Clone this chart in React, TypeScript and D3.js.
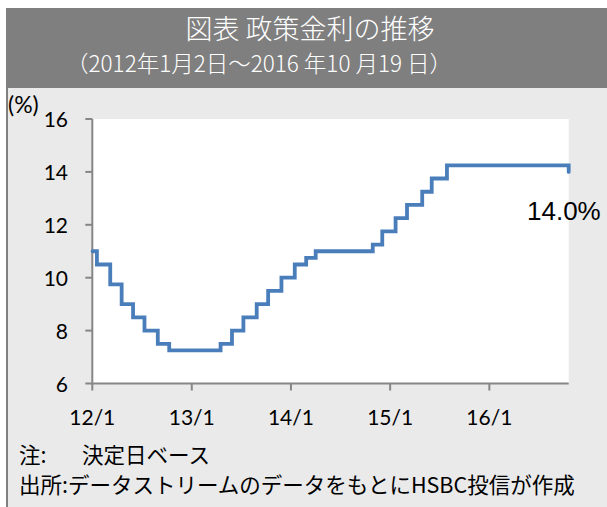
import * as d3 from "d3";

const W = 607, H = 507;

// 決定日ベースの政策金利 (%)
const decisionDates = [
  "2012-01-02", "2012-01-18", "2012-03-07", "2012-04-18", "2012-05-30",
  "2012-07-11", "2012-08-29", "2012-10-10", "2013-04-17", "2013-05-29",
  "2013-07-10", "2013-08-28", "2013-10-09", "2013-11-27", "2014-01-15",
  "2014-02-26", "2014-04-02", "2014-10-29", "2014-12-03", "2015-01-21",
  "2015-03-04", "2015-04-29", "2015-06-03", "2015-07-29", "2016-10-19",
];
const rates = [
  11.0, 10.5, 9.75, 9.0, 8.5,
  8.0, 7.5, 7.25, 7.5, 8.0,
  8.5, 9.0, 9.5, 10.0, 10.5,
  10.75, 11.0, 11.25, 11.75, 12.25,
  12.75, 13.25, 13.75, 14.25, 14.0,
];
const yTicks = [6, 8, 10, 12, 14, 16];
const xTickDates = ["2012-01-01", "2013-01-01", "2014-01-01", "2015-01-01", "2016-01-01"];
const xTickLabels = ["12/1", "13/1", "14/1", "15/1", "16/1"];

const title = "図表 政策金利の推移";
const subtitle = "（2012年1月2日～2016 年10 月19 日）";
const lastLabel = "14.0%";

const PL = 92.3, PR = 568.7, PT = 119, PB = 383.5;
const parse = d3.utcParse("%Y-%m-%d");
const jp = "'Noto Sans CJK JP', sans-serif";
const num = "Lato, sans-serif";
const axisColor = "#868686";

export default function App() {
  const x = d3.scaleUtc([parse("2012-01-01")!, parse("2016-10-19")!], [PL, PR]);
  const y = d3.scaleLinear([6, 16], [PB, PT]);
  const pts = decisionDates.map((d, i) => [parse(d)!, rates[i]] as [Date, number]);
  const line = d3.line<[Date, number]>()
    .x((d) => x(d[0]))
    .y((d) => y(d[1]))
    .curve(d3.curveStepAfter);

  return (
    <svg width={W} height={H} style={{ position: "absolute", left: 0, top: 0, background: "#fff" }}>
      {/* panel */}
      <rect x={6} y={8} width={W - 6} height={80} fill="#7f7f7f" />
      <rect x={6} y={88} width={W - 6} height={H - 88} fill="#eaeaea" />
      <line x1={7} y1={88} x2={7} y2={H} stroke="#808080" strokeWidth={2} />

      <text x={310} y={39} textAnchor="middle" fill="#fff" fontFamily={jp} fontSize={27} fontWeight={300}>{title}</text>
      <text x={259} y={72} textAnchor="middle" fill="#fff" fontFamily={jp} fontSize={22.5} fontWeight={300}>{subtitle}</text>

      {/* plot area */}
      <rect x={PL} y={PT} width={PR - PL} height={PB - PT} fill="#fff" />

      {/* y axis */}
      <line x1={PL} y1={PT} x2={PL} y2={PB} stroke={axisColor} strokeWidth={2} />
      {yTicks.map((t) => (
        <g key={t}>
          <line x1={PL - 7} x2={PL} y1={y(t)} y2={y(t)} stroke={axisColor} strokeWidth={2} />
          <text x={68} y={y(t) + 8} textAnchor="end" fontFamily={num} fontSize={21} fill="#000">{t}</text>
        </g>
      ))}
      <text x={8} y={113} fontFamily={num} fontSize={23} fill="#000">(%)</text>

      {/* x axis */}
      <line x1={PL} y1={PB} x2={PR} y2={PB} stroke={axisColor} strokeWidth={2} />
      {xTickDates.map((d, i) => {
        const xx = x(parse(d)!);
        return (
          <g key={d}>
            <line x1={xx} x2={xx} y1={PB} y2={PB + 7} stroke={axisColor} strokeWidth={2} />
            <text x={xx} y={425} textAnchor="middle" fontFamily={num} fontSize={21} fill="#000">{xTickLabels[i]}</text>
          </g>
        );
      })}

      {/* series */}
      <path d={line(pts) ?? ""} fill="none" stroke="#4a7ebb" strokeWidth={3.8} strokeLinejoin="miter" strokeLinecap="round" />
      <text x={527} y={220} fontFamily="'Liberation Sans', Arial, sans-serif" fontSize={26} fill="#000">{lastLabel}</text>

      {/* notes */}
      <text y={463} fontFamily={jp} fontSize={21.5} fill="#000">
        <tspan x={19}>注:</tspan>
        <tspan x={82}>決定日ベース</tspan>
      </text>
      <text x={19} y={493} fontFamily={jp} fontSize={21.5} fill="#000">出所:データストリームのデータをもとにHSBC投信が作成</text>
    </svg>
  );
}
